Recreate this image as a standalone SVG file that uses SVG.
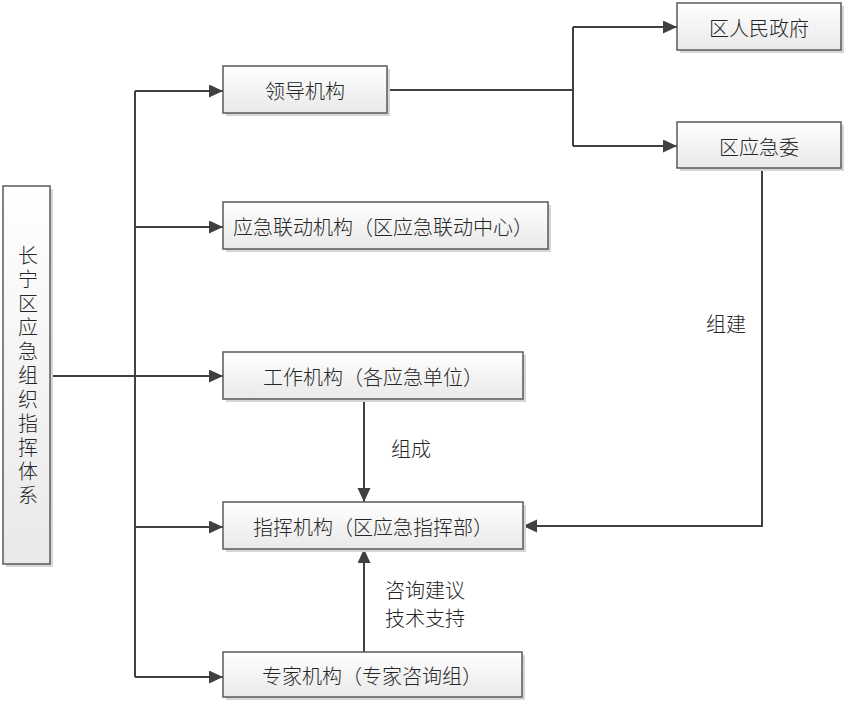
<svg xmlns="http://www.w3.org/2000/svg" width="848" height="706" viewBox="0 0 848 706">
<defs>
  <linearGradient id="g" x1="0" y1="0" x2="0" y2="1">
    <stop offset="0" stop-color="#ffffff"/>
    <stop offset="1" stop-color="#e9e9e9"/>
  </linearGradient>
  <marker id="arr" markerUnits="userSpaceOnUse" markerWidth="15" markerHeight="14" refX="14" refY="6.5" orient="auto">
    <path d="M0,0 L14,6.5 L0,13 z" fill="#404040"/>
  </marker>
</defs>
<style>
  .box { fill: url(#g); stroke: #5a5a5a; stroke-width: 1.5; }
  .sh { fill: #d6d6d6; }
  .t { font-family: "Noto Sans CJK SC", "Noto Sans", sans-serif; font-size: 20px; fill: #262626; font-weight: 300; }
  .c { text-anchor: middle; dominant-baseline: central; }
  .ln { fill: none; stroke: #404040; stroke-width: 2; }
</style>
<rect width="848" height="706" fill="#ffffff"/>

<g id="connectors">
  <path class="ln" d="M135,91 V677"/>
  <path class="ln" d="M135,91 H223" marker-end="url(#arr)"/>
  <path class="ln" d="M135,227 H223" marker-end="url(#arr)"/>
  <path class="ln" d="M50,376 H223" marker-end="url(#arr)"/>
  <path class="ln" d="M135,527 H223" marker-end="url(#arr)"/>
  <path class="ln" d="M135,677 H223" marker-end="url(#arr)"/>
  <path class="ln" d="M387,90 H573"/>
  <path class="ln" d="M573,27 V146"/>
  <path class="ln" d="M573,27 H677" marker-end="url(#arr)"/>
  <path class="ln" d="M573,146 H677" marker-end="url(#arr)"/>
  <path class="ln" d="M762,168 V526 H523" marker-end="url(#arr)"/>
  <path class="ln" d="M364,399 V502" marker-end="url(#arr)"/>
  <path class="ln" d="M364,652 V549" marker-end="url(#arr)"/>
  <text class="t c" x="726" y="323">组建</text>
  <text class="t c" x="411" y="448">组成</text>
  <text class="t" x="385" y="589" dominant-baseline="central">咨询建议</text>
  <text class="t" x="385" y="617" dominant-baseline="central">技术支持</text>
</g>

<g id="node-root">
  <rect class="sh" x="6" y="189" width="47" height="378"/>
  <rect class="box" x="3" y="186" width="47" height="378"/>
  <text class="t" x="28" y="245" style="writing-mode: vertical-rl; letter-spacing: 4px;">长宁区应急组织指挥体系</text>
</g>

<g id="node-lingdao">
  <rect class="sh" x="226" y="69" width="164" height="47"/>
  <rect class="box" x="223" y="66" width="164" height="47"/>
  <text class="t c" x="305" y="90">领导机构</text>
</g>

<g id="node-liandong">
  <rect class="sh" x="226" y="205" width="325" height="47"/>
  <rect class="box" x="223" y="202" width="325" height="47"/>
  <text class="t c" x="383" y="226">应急联动机构（区应急联动中心）</text>
</g>

<g id="node-gongzuo">
  <rect class="sh" x="226" y="355" width="300" height="47"/>
  <rect class="box" x="223" y="352" width="300" height="47"/>
  <text class="t c" x="373" y="376">工作机构（各应急单位）</text>
</g>

<g id="node-zhihui">
  <rect class="sh" x="226" y="505" width="300" height="47"/>
  <rect class="box" x="223" y="502" width="300" height="47"/>
  <text class="t c" x="373" y="526">指挥机构（区应急指挥部）</text>
</g>

<g id="node-zhuanjia">
  <rect class="sh" x="226" y="655" width="299" height="45"/>
  <rect class="box" x="223" y="652" width="299" height="45"/>
  <text class="t c" x="372" y="675">专家机构（专家咨询组）</text>
</g>

<g id="node-zhengfu">
  <rect class="sh" x="680" y="6" width="164" height="47"/>
  <rect class="box" x="677" y="3" width="164" height="47"/>
  <text class="t c" x="759" y="27">区人民政府</text>
</g>

<g id="node-yingjiwei">
  <rect class="sh" x="680" y="125" width="164" height="46"/>
  <rect class="box" x="677" y="122" width="164" height="46"/>
  <text class="t c" x="759" y="146">区应急委</text>
</g>
</svg>
